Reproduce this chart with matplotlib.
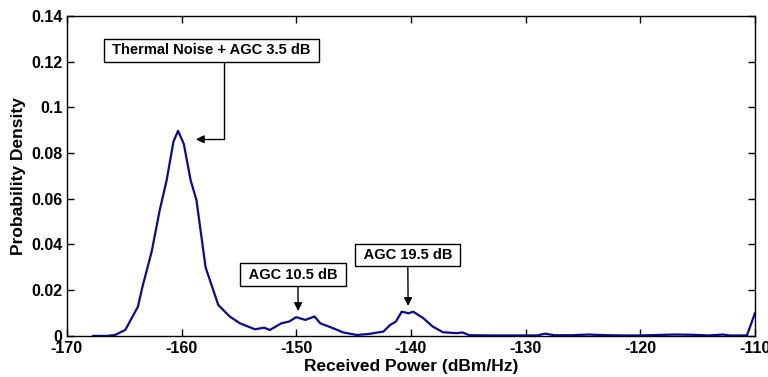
import numpy as np
import matplotlib
matplotlib.use('Agg')
import matplotlib.pyplot as plt
from matplotlib.ticker import FuncFormatter

plt.rcParams['font.family'] = ['Liberation Sans', 'DejaVu Sans']
plt.rcParams['font.weight'] = 'bold'
plt.rcParams['axes.unicode_minus'] = False

# received power (dBm/Hz) and probability density
power = [-167.7, -166.5, -165.8, -164.9, -163.8, -163.4, -162.6, -161.9, -161.3, -160.7,
         -160.3, -159.8, -159.2, -158.7, -157.9, -156.8, -155.8, -154.9, -153.6, -152.8,
         -152.3, -151.3, -150.6, -150.0, -149.2, -148.4, -147.9, -146.8, -145.9, -144.7,
         -143.6, -142.4, -141.8, -141.3, -140.8, -140.2, -139.8, -138.9, -138.1, -137.2,
         -136.0, -135.5, -134.9, -133.0, -131.0, -129.0, -128.3, -127.5, -126.0, -124.5,
         -123.0, -121.5, -120.0, -118.5, -117.0, -115.5, -114.0, -112.8, -112.2, -111.5,
         -110.7, -110.0]
density = [0, 0, 0.0004, 0.0026, 0.0128, 0.0216, 0.0369, 0.055, 0.068, 0.085,
           0.0897, 0.084, 0.068, 0.0595, 0.030, 0.0136, 0.0085, 0.0055, 0.0029, 0.0036,
           0.0026, 0.0055, 0.0063, 0.0082, 0.0070, 0.0085, 0.0055, 0.0034, 0.0015, 0.0004,
           0.0009, 0.0019, 0.0048, 0.0063, 0.0106, 0.0099, 0.0106, 0.0077, 0.0041, 0.0016,
           0.0012, 0.0015, 0.0003, 0.0002, 0.0002, 0.0002, 0.0010, 0.0003, 0.0003, 0.0006,
           0.0003, 0.0002, 0.0002, 0.0004, 0.0006, 0.0005, 0.0002, 0.0006, 0.0002, 0.0002,
           0.0002, 0.0099]

# annotations: label, arrow target, text centre, where the arrow leaves the box
notes = [
    ("Thermal Noise + AGC 3.5 dB", (-158.75, 0.0860), (-157.4, 0.125), 0.56),
    ("AGC 10.5 dB", (-149.83, 0.0109), (-150.27, 0.0267), 0.55),
    ("AGC 19.5 dB", (-140.24, 0.0131), (-140.27, 0.0354), 0.50),
]

fig = plt.figure(figsize=(7.68, 3.77), dpi=100)
ax = fig.add_axes([0.087, 0.109, 0.896, 0.849])
ax.plot(power, density, color='#0a0a96', linewidth=1.6)

ax.set_xlim(-170, -110)
ax.set_ylim(0, 0.14)
ax.set_xticks(np.arange(-170, -109, 10))
ax.set_yticks(np.arange(0, 0.141, 0.02))
ax.xaxis.set_major_formatter(FuncFormatter(lambda v, p: '%d' % round(v)))
ax.yaxis.set_major_formatter(FuncFormatter(lambda v, p: '%g' % round(v, 3)))
ax.tick_params(direction='in', top=True, right=True, labelsize=11.5, length=5, width=1)
ax.tick_params(axis='x', pad=4)
ax.tick_params(axis='y', pad=3)
for s in ax.spines.values():
    s.set_linewidth(1)
ax.set_xlabel('Received Power (dBm/Hz)', fontsize=12.5, fontweight='bold', labelpad=2)
ax.set_ylabel('Probability Density', fontsize=12.5, fontweight='bold', labelpad=4)

box = dict(boxstyle='square,pad=0.3', fc='white', ec='black', lw=1)
for i, (lbl, xy, xt, rp) in enumerate(notes):
    arrow = dict(arrowstyle='-|>', color='black', lw=1, mutation_scale=12,
                 relpos=(rp, 0), shrinkA=0, shrinkB=0)
    if i == 0:
        arrow['connectionstyle'] = 'angle,angleA=90,angleB=0,rad=0'
    ax.annotate(' ' + lbl + ' ', xy=xy, xytext=xt, ha='center', va='center',
                fontsize=10.5, fontweight='bold', bbox=box, arrowprops=arrow)

fig.savefig('out.png', dpi=100)
